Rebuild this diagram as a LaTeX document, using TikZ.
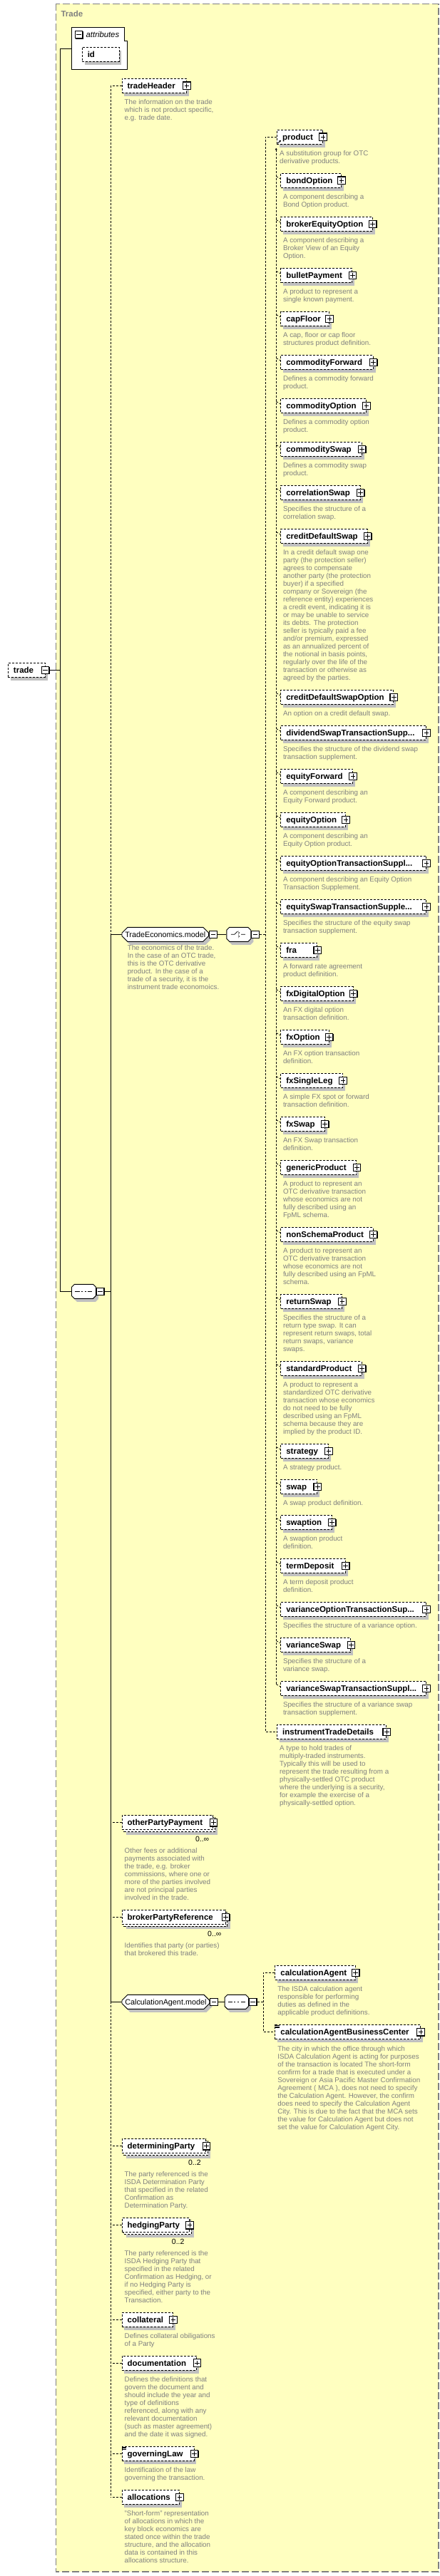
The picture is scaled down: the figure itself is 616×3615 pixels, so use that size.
\documentclass[tikz,border=0pt]{standalone}
\usepackage{fontspec}
\setmainfont{Liberation Sans}
\usetikzlibrary{arrows.meta,positioning,shapes.misc,shadows}
\definecolor{tyel}{HTML}{FFFFC0}\definecolor{tshd}{HTML}{C0C0C0}\definecolor{tgry}{HTML}{808080}
\newcommand{\nmfont}{\fontsize{11.5}{13}\selectfont\bfseries}
\newcommand{\dsfont}{\fontsize{9.8}{11}\selectfont}
\protected\def\tdots{...}
\tikzset{sh/.style={drop shadow={shadow xshift=3.5pt,shadow yshift=-4.5pt,fill=tshd,opacity=1}},
msh/.style={drop shadow={shadow xshift=6.5pt,shadow yshift=-7pt,fill=tshd,opacity=1},copy shadow={shadow xshift=2.8pt,shadow yshift=-2.8pt,draw,fill=white,line width=.9pt,dash pattern=on 3pt off 2pt}},
el/.style={draw,line width=.9pt,dash pattern=on 3pt off 2pt,fill=white,anchor=west,minimum height=20pt,inner xsep=7.7pt,inner ysep=0pt,align=left,text height=8.3pt,text depth=0pt,font=\nmfont},
grp/.style={sh,draw,line width=.9pt,fill=white,chamfered rectangle,chamfered rectangle xsep=4pt,chamfered rectangle ysep=4pt,anchor=west,minimum height=20pt,inner sep=0pt,text height=7.8pt,text depth=0pt,font=\fontsize{10.8}{13}\selectfont},
btn/.style={draw,fill=white,line width=1.1pt,minimum size=10.5pt,inner sep=0pt,drop shadow={shadow xshift=.9pt,shadow yshift=-.9pt,fill=black,opacity=1}},
pb/.style={btn,path picture={\draw[line width=.9pt]([xshift=-3.3pt]path picture bounding box.center)--([xshift=3.3pt]path picture bounding box.center)([yshift=-3.3pt]path picture bounding box.center)--([yshift=3.3pt]path picture bounding box.center);}},
mb/.style={btn,path picture={\draw[line width=.9pt]([xshift=-3.3pt]path picture bounding box.center)--([xshift=3.3pt]path picture bounding box.center);}},
sqs/.style={path picture={\coordinate(pc)at(path picture bounding box.center);\draw[line width=.8pt]([xshift=-12pt]pc)--([xshift=12pt]pc);\foreach\k in{-4.6,0,4.6}\fill([xshift=\k pt]pc)+(-1.3pt,-1.3pt)rectangle+(1.3pt,1.3pt);}},
chs/.style={path picture={\coordinate(pc)at(path picture bounding box.center);\draw[line width=.8pt]([xshift=-11pt]pc)--([xshift=-6pt]pc)--([xshift=-1.5pt,yshift=4.5pt]pc)([xshift=.3pt,yshift=5pt]pc)--([xshift=.3pt,yshift=-5pt]pc)([xshift=2pt]pc)--([xshift=9pt]pc);\foreach\k in{-5,0,5}\fill([xshift=2pt,yshift=\k pt]pc)+(-1.4pt,-1.4pt)rectangle+(1.4pt,1.4pt);}},
dsc/.style={anchor=north west,inner sep=0pt,align=left,text=tgry,font=\dsfont},
mlt/.style={anchor=east,inner sep=0pt,text height=7.5pt,text depth=0pt,font=\fontsize{10.5}{12}\selectfont},
ln/.style={line width=.8pt},dln/.style={ln,dash pattern=on 3pt off 2pt}}
\begin{document}
\begin{tikzpicture}[x=1pt,y=-1pt]
\useasboundingbox(0,0)rectangle(616,3615);
\draw[tgry,fill=tyel,line width=1.1pt,dash pattern=on 10pt off 4pt](78.6,5.5)rectangle(615,3609);
\node[anchor=west,inner sep=0pt,text=tgry,text height=8.3pt,text depth=0pt,font=\nmfont](ttl)at(85.4,19){Trade};
\draw[fill=white,line width=.9pt](100,38)--(174.5,38)--(174.5,57)--(178.4,57)--(178.4,97.5)--(100,97.5)--cycle;
\node[mb](batt)at(110.6,48.5){};
\node[anchor=west,inner sep=0pt,text height=8.3pt,text depth=0pt,font=\fontsize{11.3}{13}\selectfont\itshape](att)at(120.5,48.5){attributes};
\node[el,sh,text width=36.5pt](id)at(114.6,76.3){id};
\node[el,sh,text width=36.5pt](trade)at(10.8,940.3){trade};\node[mb](btrade)at(trade.east){};
\node[grp,sqs,minimum width=34pt](sq)at(100,1812.3){};\node[mb,anchor=west](bsq)at(sq.east){};
\coordinate(va)at(100,68.3);\coordinate(vt)at(84.6,68.3);\coordinate(vb)at(84.6,1812.3);
\draw[ln](va)--(vt)--(vb)--(sq.west);\draw[ln](btrade.east)--(btrade.east-|vt);
\node[el,sh,text width=75.1pt](th)at(170.5,120.3){tradeHeader};
\node[grp,minimum width=121.7pt](tem)at(170.5,1311.3){TradeEconomics.model};
\node[el,msh,text width=112.5pt](opp)at(170.5,2557.7){otherPartyPayment};
\node[el,msh,text width=129.7pt](bpr)at(170.5,2690.3){brokerPartyReference};
\node[grp,minimum width=122.9pt](cam)at(170.5,2809.3){CalculationAgent.model};
\node[el,msh,text width=102.5pt](dp)at(170.5,3011.7){determiningParty};
\node[el,msh,text width=79.2pt](hp)at(170.5,3122.7){hedgingParty};
\node[el,sh,text width=56pt](col)at(170.5,3255.3){collateral};
\node[el,sh,text width=89.5pt](doc)at(170.5,3316){documentation};
\node[el,sh,text width=85.6pt](gl)at(170.5,3443.3){governingLaw};
\node[el,sh,text width=65pt](alc)at(170.5,3504.3){allocations};
\foreach\n in{th,opp,bpr,dp,hp,col,doc,gl,alc}\node[pb](b\n)at(\n.east){};
\foreach\n in{tem,cam}\node[mb,anchor=west](b\n)at(\n.east){};
\node[mlt](mopp)at(293.4,2581){0..∞};\node[mlt](mbpr)at(310.6,2714){0..∞};
\node[mlt](mdp)at(281.8,3034.7){0..2};\node[mlt](mhp)at(258.7,3145.7){0..2};
\coordinate(sj)at(155,1812.3);\draw[ln](bsq.east)--(sj);
\draw[dln](th.west-|sj)--(tem.west-|sj);\draw[ln](tem.west-|sj)--(cam.west-|sj);\draw[dln](cam.west-|sj)--(alc.west-|sj);
\foreach\n in{th,opp,bpr,dp,hp,col,doc,gl,alc}\draw[dln](\n.west)--(\n.west-|sj);
\foreach\n in{tem,cam}\draw[ln](\n.west)--(\n.west-|sj);
\node[dsc,below right=8.8pt and 4pt of th.south west](dth){The information on the trade\\which is not product specific,\\e.g. trade date.};
\node[dsc,below right=8.8pt and 4pt of tem.south west](dtem){The economics of the trade.\\In the case of an OTC trade,\\this is the OTC derivative\\product. In the case of a\\trade of a security, it is the\\instrument trade economoics.};
\node[dsc,below right=25.4pt and 4pt of opp.south west](dopp){Other fees or additional\\payments associated with\\the trade, e.g. broker\\commissions, where one or\\more of the parties involved\\are not principal parties\\involved in the trade.};
\node[dsc,below right=25.4pt and 4pt of bpr.south west](dbpr){Identifies that party (or parties)\\that brokered this trade.};
\node[dsc,below right=25.4pt and 4pt of dp.south west](ddp){The party referenced is the\\ISDA Determination Party\\that specified in the related\\Confirmation as\\Determination Party.};
\node[dsc,below right=25.4pt and 4pt of hp.south west](dhp){The party referenced is the\\ISDA Hedging Party that\\specified in the related\\Confirmation as Hedging, or\\if no Hedging Party is\\specified, either party to the\\Transaction.};
\node[dsc,below right=8.8pt and 4pt of col.south west](dcol){Defines collateral obiligations\\of a Party};
\node[dsc,below right=8.8pt and 4pt of doc.south west](ddoc){Defines the definitions that\\govern the document and\\should include the year and\\type of definitions\\referenced, along with any\\relevant documentation\\(such as master agreement)\\and the date it was signed.};
\node[dsc,below right=8.8pt and 4pt of gl.south west](dgl){Identification of the law\\governing the transaction.};
\node[dsc,below right=8.8pt and 4pt of alc.south west](dalc){"Short-form" representation\\of allocations in which the\\key block economics are\\stated once within the trade\\structure, and the allocation\\data is contained in this\\allocations structure.};
\node[grp,chs,minimum width=33.9pt](ch)at(317.4,1311.3){};\node[mb,anchor=west](bch)at(ch.east){};
\draw[ln](btem.east)--(ch.west);\coordinate(cj)at(372,1311.3);\draw[dln](bch.east)--(cj);
\node[el,sh,text width=48.7pt](prd)at(388,192.3){product};\node[pb](bprd)at(prd.east){};
\node[el,sh,text width=137.9pt](itd)at(388,2430.3){instrumentTradeDetails};\node[pb](bitd)at(itd.east){};
\draw[dln](prd.west)--(prd.west-|cj)--(itd.west-|cj)--(itd.west);
\draw[ln,-{Stealth[length=3pt,width=3pt]}]([xshift=1.5pt,yshift=1.5pt]prd.south west)--++(4.5,-4.5);
\node[dsc,below right=8.8pt and 4pt of prd.south west](dprd){A substitution group for OTC\\derivative products.};
\node[dsc,below right=8.8pt and 4pt of itd.south west](ditd){A type to hold trades of\\multiply-traded instruments.\\Typically this will be used to\\represent the trade resulting from a\\physically-settled OTC product\\where the underlying is a security,\\for example the exercise of a\\physically-settled option.};
\coordinate(sg)at(387.2,207.5);\coordinate(sge)at(387.2,2364);
\draw[dln,{Latex[length=3pt,width=3.5pt]}-](sg)--(sge);
\foreach\id/\nm/\ny/\nr/\nd in{bo/bondOption/253.3/478/{A component describing a\\Bond Option product.},
beo/brokerEquityOption/314.3/521.8/{A component describing a\\Broker View of an Equity\\Option.},
bp/bulletPayment/386.3/493.4/{A product to represent a\\single known payment.},
cf/capFloor/447.3/461.1/{A cap, floor or cap floor\\structures product definition.},
cfw/commodityForward/508.3/522.6/{Defines a commodity forward\\product.},
co/commodityOption/569.3/513/{Defines a commodity option\\product.},
cs/commoditySwap/630.3/506.6/{Defines a commodity swap\\product.},
crs/correlationSwap/691.3/504.6/{Specifies the structure of a\\correlation swap.},
cds/creditDefaultSwap/752.3/514.6/{In a credit default swap one\\party (the protection seller)\\agrees to compensate\\another party (the protection\\buyer) if a specified\\company or Sovereign (the\\reference entity) experiences\\a credit event, indicating it is\\or may be unable to service\\its debts. The protection\\seller is typically paid a fee\\and/or premium, expressed\\as an annualized percent of\\the notional in basis points,\\regularly over the life of the\\transaction or otherwise as\\agreed by the parties.},
cdso/creditDefaultSwapOption/978.3/551.3/{An option on a credit default swap.},
dst/{dividendSwapTransactionSupp\tdots}/1028.3/597.2/{Specifies the structure of the dividend swap\\transaction supplement.},
ef/equityForward/1089.3/494.2/{A component describing an\\Equity Forward product.},
eo/equityOption/1150.3/484.2/{A component describing an\\Equity Option product.},
eot/{equityOptionTransactionSuppl\tdots}/1211.3/597.2/{A component describing an Equity Option\\Transaction Supplement.},
est/{equitySwapTransactionSupple\tdots}/1272.3/597.2/{Specifies the structure of the equity swap\\transaction supplement.},
fra/fra/1333.3/444.3/{A forward rate agreement\\product definition.},
fxd/fxDigitalOption/1394.3/494.6/{An FX digital option\\transaction definition.},
fxo/fxOption/1455.3/460.7/{An FX option transaction\\definition.},
fxs/fxSingleLeg/1516.3/480.2/{A simple FX spot or forward\\transaction definition.},
fxw/fxSwap/1577.3/454.7/{An FX Swap transaction\\definition.},
gp/genericProduct/1638.3/499.4/{A product to represent an\\OTC derivative transaction\\whose economics are not\\fully described using an\\FpML schema.},
nsp/nonSchemaProduct/1732.3/522.6/{A product to represent an\\OTC derivative transaction\\whose economics are not\\fully described using an FpML\\schema.},
rs/returnSwap/1826.3/479/{Specifies the structure of a\\return type swap. It can\\represent return swaps, total\\return swaps, variance\\swaps.},
sp/standardProduct/1920.3/506.6/{A product to represent a\\standardized OTC derivative\\transaction whose economics\\do not need to be fully\\described using an FpML\\schema because they are\\implied by the product ID.},
st/strategy/2036.3/459.9/{A strategy product.},
sw/swap/2086.3/444.3/{A swap product definition.},
swn/swaption/2136.3/464.7/{A swaption product\\definition.},
td/termDeposit/2197.3/483.8/{A term deposit product\\definition.},
vot/{varianceOptionTransactionSup\tdots}/2258.3/597.2/{Specifies the structure of a variance option.},
vs/varianceSwap/2308.3/491.4/{Specifies the structure of a\\variance swap.},
vst/{varianceSwapTransactionSuppl\tdots}/2369.3/597.2/{Specifies the structure of a variance swap\\transaction supplement.}}{
\pgfmathsetmacro\tw{\nr-408.6}
\node[el,sh,text width=\tw pt](\id)at(393.2,\ny){\nm};\node[pb](b\id)at(\id.east){};
\node[dsc,below right=8.8pt and 3.6pt of \id.south west](d\id){\nd};
\draw[dln](\id.north west)++(-6,4.6)--++(6,3.4);}
\node[grp,sqs,minimum width=33.4pt](cas)at(314.6,2809.3){};\node[mb,anchor=west](bcas)at(cas.east){};
\draw[ln](bcam.east)--(cas.west);\coordinate(caj)at(369.3,2809.3);\draw[dln](bcas.east)--(caj);
\node[el,sh,text width=97.1pt](cag)at(385.3,2768.3){calculationAgent};\node[pb](bcag)at(cag.east){};
\node[el,sh,text width=188.5pt](cabc)at(385.3,2851.7){calculationAgentBusinessCenter};\node[pb](bcabc)at(cabc.east){};
\draw[dln](cag.west)--(cag.west-|caj)--(cabc.west-|caj)--(cabc.west);
\foreach\n in{cabc,gl}\foreach\k in{1,2.7,4.4}\draw[line width=.6pt](\n.north west)++(.5,\k)--++(6,0);
\node[dsc,below right=8.8pt and 3.9pt of cag.south west](dcag){The ISDA calculation agent\\responsible for performing\\duties as defined in the\\applicable product definitions.};
\node[dsc,below right=8.8pt and 3.9pt of cabc.south west](dcabc){The city in which the office through which\\ISDA Calculation Agent is acting for purposes\\of the transaction is located The short-form\\confirm for a trade that is executed under a\\Sovereign or Asia Pacific Master Confirmation\\Agreement ( MCA ), does not need to specify\\the Calculation Agent. However, the confirm\\does need to specify the Calculation Agent\\City. This is due to the fact that the MCA sets\\the value for Calculation Agent but does not\\set the value for Calculation Agent City.};
\end{tikzpicture}
\end{document}
